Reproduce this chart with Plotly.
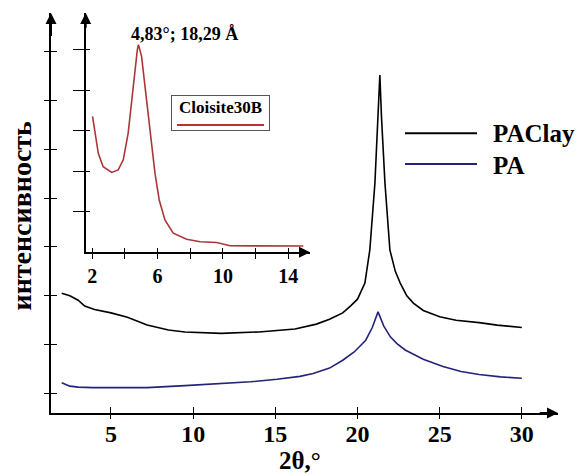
import plotly.graph_objects as go

# ---------------- data ----------------
paclay_x = [2.0, 2.5, 3.0, 3.4, 4.0, 5.0, 6.0, 7.2, 8.5, 9.5, 11.7, 14.0, 16.2, 17.5,
            18.3, 19.1, 19.6, 20.0, 20.45, 20.75, 21.06, 21.25, 21.36, 21.46, 21.67,
            21.97, 22.3, 22.6, 23.0, 23.4, 24.0, 25.0, 26.0, 27.4, 28.5, 30.0]
paclay_y = [2.05, 2.0, 1.91, 1.79, 1.72, 1.65, 1.56, 1.40, 1.30, 1.26, 1.23, 1.26, 1.32,
            1.42, 1.52, 1.65, 1.80, 1.93, 2.26, 2.94, 4.31, 5.66, 6.52, 5.66, 4.31,
            2.94, 2.5, 2.26, 2.0, 1.85, 1.70, 1.57, 1.50, 1.45, 1.40, 1.35]

pa_x = [2.0, 2.5, 3.0, 3.9, 5.5, 7.2, 9.5, 11.7, 13.5, 15.1, 16.5, 17.3, 18.3, 19.1,
        19.8, 20.5, 20.9, 21.25, 21.6, 22.0, 22.4, 22.9, 24.0, 25.2, 26.3, 27.4, 28.7, 30.0]
pa_y = [0.22, 0.15, 0.13, 0.12, 0.12, 0.12, 0.16, 0.20, 0.24, 0.29, 0.35, 0.41, 0.52,
        0.68, 0.85, 1.09, 1.35, 1.67, 1.38, 1.16, 1.02, 0.89, 0.70, 0.55, 0.45, 0.39,
        0.34, 0.31]

clay_x = [2.02, 2.17, 2.37, 2.67, 3.19, 3.59, 3.90, 4.20, 4.41, 4.61, 4.76, 4.83, 5.02,
          5.23, 5.43, 5.64, 5.84, 6.10, 6.45, 6.96, 7.78, 8.60, 9.62, 10.43, 12.0, 14.92]
clay_y = [3.35, 2.94, 2.44, 2.11, 1.97, 2.03, 2.28, 2.94, 3.76, 4.50, 4.99, 5.12, 4.83,
          4.09, 3.35, 2.69, 1.95, 1.29, 0.80, 0.47, 0.32, 0.26, 0.24, 0.16, 0.155, 0.155]

main_xticks = [5, 10, 15, 20, 25, 30]
main_yticks = [0, 1, 2, 3, 4, 5, 6, 7]
inset_xticks = [2, 4, 6, 8, 10, 12, 14]
inset_xlabels = ["2", "", "6", "", "10", "", "14"]
inset_yticks = [1, 2, 3, 4, 5]

series_names = ["PAClay", "PA"]
inset_name = "Cloisite30B"
peak_label = "4,83°; 18,29 Å"
y_title = "интенсивность"
x_title = "2θ,°"

# ---------------- layout geometry ----------------
W, H = 578, 475
L, R, T, B = 51, 20, 13, 62
PW, PH = W - L - R, H - T - B


def px(xp):
    return (xp - L) / PW


def py(yp):
    return (H - B - yp) / PH


FONT = "Liberation Serif, Times New Roman, serif"
MAIN_XR = [1.35, 32.2]
MAIN_YR = [-0.4, 7.79]
INS_XR = [1.6, 15.33]
INS_YR = [0, 5.9]
INS_XD = [px(85.7), px(310)]
INS_YD = [py(252.3), 1.0]

fig = go.Figure()
fig.add_trace(go.Scatter(x=paclay_x, y=paclay_y, mode="lines", name=series_names[0],
                         line=dict(color="#000000", width=1.6), showlegend=False))
fig.add_trace(go.Scatter(x=pa_x, y=pa_y, mode="lines", name=series_names[1],
                         line=dict(color="#23237a", width=1.6), showlegend=False))
fig.add_trace(go.Scatter(x=clay_x, y=clay_y, mode="lines", name=inset_name,
                         xaxis="x2", yaxis="y2",
                         line=dict(color="#a83838", width=1.6), showlegend=False))
# empty traces so the overlay tick axes get drawn
fig.add_trace(go.Scatter(x=[], y=[], xaxis="x3", yaxis="y3", showlegend=False, hoverinfo="skip"))
fig.add_trace(go.Scatter(x=[], y=[], xaxis="x4", yaxis="y4", showlegend=False, hoverinfo="skip"))

base = dict(showgrid=False, zeroline=False, automargin=False, fixedrange=True)
fig.update_layout(
    width=W, height=H,
    margin=dict(l=L, r=R, t=T, b=B, pad=0),
    paper_bgcolor="white", plot_bgcolor="rgba(0,0,0,0)",
    font=dict(family=FONT, color="black"),
    xaxis=dict(base, domain=[0, 1], range=MAIN_XR, anchor="y", showline=True, linewidth=2,
               linecolor="black", ticks="outside", ticklen=4, tickwidth=1.2, tickcolor="black",
               tickmode="array", tickvals=main_xticks, ticklabelstandoff=-6,
               tickfont=dict(family=FONT, size=24, weight="bold", color="black")),
    yaxis=dict(base, domain=[0, 1], range=MAIN_YR, anchor="x", showline=True, linewidth=2,
               linecolor="black", ticks="outside", ticklen=5, tickwidth=1.2, tickcolor="black",
               tickmode="array", tickvals=main_yticks, showticklabels=False),
    xaxis3=dict(base, overlaying="x", range=MAIN_XR, anchor="y3", showline=False,
                ticks="inside", ticklen=6, tickwidth=1.2, tickcolor="black",
                tickmode="array", tickvals=main_xticks, showticklabels=False),
    yaxis3=dict(base, overlaying="y", range=MAIN_YR, anchor="x3", showline=False,
                ticks="inside", ticklen=6, tickwidth=1.2, tickcolor="black",
                tickmode="array", tickvals=main_yticks, showticklabels=False),
    xaxis2=dict(base, domain=INS_XD, range=INS_XR, anchor="y2", showline=True, linewidth=2,
                linecolor="black", ticks="outside", ticklen=5, tickwidth=1.2, tickcolor="black",
                tickmode="array", tickvals=inset_xticks, ticktext=inset_xlabels,
                tickfont=dict(family=FONT, size=20, weight="bold", color="black")),
    yaxis2=dict(base, domain=INS_YD, range=INS_YR, anchor="x2", showline=True, linewidth=2,
                linecolor="black", ticks="outside", ticklen=11, tickwidth=1.2, tickcolor="black",
                tickmode="array", tickvals=inset_yticks, showticklabels=False),
    xaxis4=dict(base, overlaying="x2", range=INS_XR, anchor="y4", showline=False,
                ticks="inside", ticklen=4, tickwidth=1.2, tickcolor="black",
                tickmode="array", tickvals=inset_xticks, showticklabels=False),
    yaxis4=dict(base, overlaying="y2", range=INS_YR, anchor="x4", showline=False,
                ticks="inside", ticklen=4, tickwidth=1.2, tickcolor="black",
                tickmode="array", tickvals=inset_yticks, showticklabels=False),
)

arrow = dict(text="", showarrow=True, arrowhead=2, arrowsize=1.1, arrowwidth=2,
             arrowcolor="black", standoff=0)
anns = [
    dict(arrow, x=MAIN_XR[1], y=MAIN_YR[0], ax=MAIN_XR[1] - 1.2, ay=MAIN_YR[0],
         xref="x", yref="y", axref="x", ayref="y"),
    dict(arrow, x=MAIN_XR[0], y=MAIN_YR[1], ax=MAIN_XR[0], ay=MAIN_YR[1] - 0.5,
         xref="x", yref="y", axref="x", ayref="y"),
    dict(arrow, x=INS_XR[1], y=INS_YR[0], ax=INS_XR[1] - 0.6, ay=INS_YR[0],
         xref="x2", yref="y2", axref="x2", ayref="y2"),
    dict(arrow, x=INS_XR[0], y=INS_YR[1], ax=INS_XR[0], ay=INS_YR[1] - 0.4,
         xref="x2", yref="y2", axref="x2", ayref="y2"),
    # axis titles
    dict(text=y_title, textangle=-90, x=px(20.5), y=py(216), xref="paper", yref="paper",
         showarrow=False, xanchor="center", yanchor="middle",
         font=dict(family=FONT, size=28, weight="bold", color="black")),
    dict(text=x_title, x=px(300), y=py(475), xref="paper", yref="paper",
         showarrow=False, xanchor="center", yanchor="bottom", borderpad=0,
         font=dict(family=FONT, size=25, weight="bold", color="black")),
    # peak label
    dict(text=peak_label, x=px(184), y=py(34), xref="paper", yref="paper",
         showarrow=False, xanchor="center", yanchor="middle",
         font=dict(family=FONT, size=18, weight="bold", color="black")),
    # inset legend box
    dict(text=inset_name, x=px(220.5), y=py(113.4), xref="paper", yref="paper",
         showarrow=False, xanchor="center", yanchor="middle", width=94, height=31,
         valign="top", borderpad=1.5, bordercolor="#555555", borderwidth=1,
         font=dict(family=FONT, size=17, weight="bold", color="black")),
    # main legend texts
    dict(text=series_names[0], x=px(491), y=py(133.3), xref="paper", yref="paper",
         showarrow=False, xanchor="left", yanchor="middle",
         font=dict(family=FONT, size=25, weight="bold", color="black")),
    dict(text=series_names[1], x=px(491), y=py(165), xref="paper", yref="paper",
         showarrow=False, xanchor="left", yanchor="middle",
         font=dict(family=FONT, size=25, weight="bold", color="black")),
]
fig.update_layout(annotations=anns)

shapes = [
    dict(type="line", xref="paper", yref="paper", x0=px(177), x1=px(264), y0=py(125), y1=py(125),
         line=dict(color="#c03030", width=2)),
    dict(type="line", xref="paper", yref="paper", x0=px(405), x1=px(477), y0=py(133.3), y1=py(133.3),
         line=dict(color="#000000", width=2)),
    dict(type="line", xref="paper", yref="paper", x0=px(405), x1=px(477), y0=py(164), y1=py(164),
         line=dict(color="#23237a", width=2)),
]
fig.update_layout(shapes=shapes)

fig.write_html("out.html")
